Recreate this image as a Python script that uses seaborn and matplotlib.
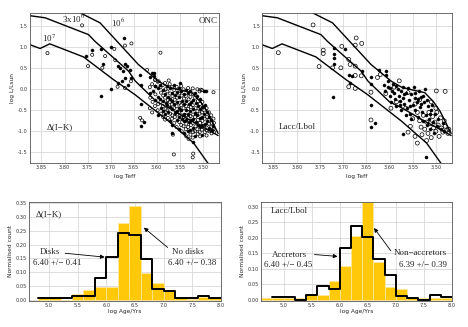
import seaborn as sns
import matplotlib.pyplot as plt
import numpy as np
import pandas as pd

# isochrones (log Teff, log L)
iso_1e6 = [(3.79, 1.95), (3.723, 1.58), (3.64, 0.59), (3.596, 0.19), (3.574, 0.05), (3.549, -0.02),
           (3.524, -0.08), (3.505, -0.30), (3.491, -0.52), (3.467, -1.05)]
iso_3e6 = [(3.90, 1.80), (3.875, 1.75), (3.842, 1.70), (3.748, 1.30), (3.734, 1.14), (3.661, 0.43),
           (3.647, 0.20), (3.60, -0.30), (3.574, -0.44), (3.524, -0.76), (3.500, -0.90), (3.467, -1.10)]
iso_1e7 = [(3.90, 1.15), (3.875, 1.06), (3.853, 0.97), (3.832, 1.08), (3.759, 0.77), (3.694, 0.23),
           (3.647, -0.13), (3.574, -0.76), (3.52, -1.28), (3.487, -1.79), (3.47, -2.1)]

# left HRD: disks (filled) / no disks (open)
disk_pts = [(3.753, 0.80), (3.740, 0.93), (3.720, -0.17), (3.721, 0.96), (3.716, 0.59), (3.700, 1.00),
            (3.700, 0.01), (3.671, 1.21), (3.685, 0.56), (3.679, 0.51), (3.673, 0.43), (3.669, 0.59),
            (3.664, 0.56), (3.658, 0.47), (3.685, 0.14), (3.675, 0.19), (3.669, 0.27), (3.663, 0.11),
            (3.656, 0.27), (3.636, 0.33), (3.634, 0.11), (3.634, -0.35), (3.627, -0.78), (3.634, -0.88),
            (3.607, 0.39), (3.607, 0.32), (3.592, 0.11), (3.603, 0.07), (3.550, 0.15), (3.493, -0.05),
            (3.567, -1.04), (3.521, -1.26),
            (3.615, 0.30), (3.614, -0.10), (3.610, 0.38), (3.609, -0.05), (3.604, 0.08), (3.603, -0.25),
            (3.598, 0.02), (3.597, -0.18), (3.598, -0.62), (3.592, -0.22), (3.591, -0.45), (3.587, -0.02),
            (3.586, -0.28), (3.587, -0.52), (3.582, -0.12), (3.581, -0.33), (3.582, -0.60), (3.577, 0.08),
            (3.576, -0.18), (3.577, -0.38), (3.576, -0.55), (3.572, 0.02), (3.571, -0.22), (3.572, -0.42),
            (3.571, -0.75), (3.567, -0.08), (3.566, -0.28), (3.567, -0.48), (3.566, -0.85), (3.562, 0.10),
            (3.561, -0.14), (3.562, -0.35), (3.561, -0.57), (3.557, -0.06), (3.556, -0.30), (3.557, -0.52),
            (3.556, -0.72), (3.552, 0.02), (3.551, -0.18), (3.552, -0.44), (3.551, -0.65), (3.552, -0.95),
            (3.547, -0.04), (3.546, -0.27), (3.547, -0.50), (3.546, -0.70), (3.542, -0.12), (3.541, -0.35),
            (3.542, -0.58), (3.541, -0.76), (3.542, -1.05), (3.537, -0.02), (3.536, -0.28), (3.537, -0.50),
            (3.536, -0.72), (3.532, -0.10), (3.531, -0.36), (3.532, -0.58), (3.531, -0.78), (3.532, -1.00),
            (3.527, -0.05), (3.526, -0.30), (3.527, -0.52), (3.526, -0.74), (3.527, -0.96), (3.522, -0.25),
            (3.521, -0.48), (3.522, -0.70), (3.521, -0.92), (3.517, -0.08), (3.516, -0.33), (3.517, -0.56),
            (3.516, -0.78), (3.517, -1.10), (3.512, -0.15), (3.511, -0.40), (3.512, -0.62), (3.511, -0.84),
            (3.507, -0.22), (3.506, -0.47), (3.507, -0.68), (3.506, -0.90), (3.502, -0.42), (3.501, -0.65),
            (3.502, -0.86), (3.501, -1.08), (3.497, -0.05), (3.496, -0.38), (3.497, -0.60), (3.496, -0.82),
            (3.492, -0.55), (3.491, -0.76), (3.487, -0.65), (3.486, -0.92), (3.482, -0.72), (3.481, -0.98),
            (3.477, -0.88)]
nodisk_pts = [(3.837, 0.86), (3.762, 1.52), (3.749, 0.55), (3.740, 0.82), (3.718, 0.51), (3.712, 0.79),
              (3.692, 0.96), (3.669, 1.04), (3.655, 1.09), (3.690, 0.69), (3.685, 0.06), (3.669, 0.03),
              (3.656, 0.19), (3.592, 0.87), (3.621, 0.46), (3.636, -0.68), (3.632, -0.74), (3.563, -1.55),
              (3.521, -1.53), (3.522, -1.62), (3.565, -1.08), (3.505, -0.01), (3.477, -0.07), (3.603, 0.23),
              (3.596, 0.19), (3.574, 0.21),
              (3.615, 0.05), (3.614, -0.20), (3.615, -0.45), (3.610, 0.12), (3.609, -0.30), (3.610, -0.55),
              (3.604, 0.22), (3.603, -0.12), (3.604, -0.40), (3.598, 0.18), (3.597, -0.35), (3.598, -0.50),
              (3.592, 0.05), (3.591, -0.08), (3.592, -0.30), (3.591, -0.58), (3.587, 0.10), (3.586, -0.15),
              (3.587, -0.40), (3.586, -0.66), (3.582, 0.15), (3.581, 0.00), (3.582, -0.20), (3.581, -0.47),
              (3.582, -0.72), (3.577, -0.05), (3.576, -0.26), (3.577, -0.50), (3.576, -0.68), (3.572, 0.12),
              (3.571, -0.10), (3.572, -0.30), (3.571, -0.58), (3.567, 0.05), (3.566, -0.16), (3.567, -0.36),
              (3.566, -0.62), (3.567, -0.70), (3.562, -0.02), (3.561, -0.25), (3.562, -0.45), (3.561, -0.66),
              (3.562, -0.80), (3.557, 0.06), (3.556, -0.20), (3.557, -0.40), (3.556, -0.60), (3.557, -0.90),
              (3.552, -0.10), (3.551, -0.32), (3.552, -0.55), (3.551, -0.78), (3.547, 0.08), (3.546, -0.15),
              (3.547, -0.38), (3.546, -0.62), (3.547, -0.85), (3.546, -1.00), (3.542, 0.00), (3.541, -0.22),
              (3.542, -0.45), (3.541, -0.66), (3.542, -0.88), (3.537, -0.16), (3.536, -0.40), (3.537, -0.62),
              (3.536, -0.82), (3.537, -0.95), (3.536, -1.12), (3.532, 0.03), (3.531, -0.24), (3.532, -0.47),
              (3.531, -0.68), (3.532, -0.90), (3.531, -1.18), (3.527, -0.18), (3.526, -0.42), (3.527, -0.64),
              (3.526, -0.85), (3.527, -1.08), (3.522, 0.02), (3.521, -0.12), (3.522, -0.38), (3.521, -0.60),
              (3.522, -0.80), (3.521, -1.02), (3.522, -1.15), (3.517, -0.20), (3.516, -0.45), (3.517, -0.66),
              (3.516, -0.88), (3.517, -1.00), (3.512, 0.00), (3.511, -0.28), (3.512, -0.52), (3.511, -0.73),
              (3.512, -0.95), (3.511, -1.06), (3.507, -0.05), (3.506, -0.35), (3.507, -0.58), (3.506, -0.80),
              (3.507, -1.02), (3.506, -1.12), (3.502, -0.02), (3.501, -0.30), (3.502, -0.55), (3.501, -0.75),
              (3.502, -0.96), (3.497, -0.50), (3.496, -0.70), (3.497, -0.92), (3.496, -1.02), (3.492, -0.45),
              (3.491, -0.66), (3.492, -0.86), (3.491, -0.98), (3.492, -1.10), (3.487, -0.55), (3.486, -0.72),
              (3.487, -0.82), (3.486, -1.00), (3.482, -0.62), (3.481, -0.80), (3.482, -0.90), (3.481, -1.05),
              (3.477, -0.70), (3.476, -0.80), (3.477, -0.95), (3.476, -1.02)]

# right HRD: accretors (filled) / non-accretors (open)
acc_pts = [(3.719, 0.97), (3.719, 0.83), (3.719, 0.75), (3.719, 0.59), (3.696, 0.96), (3.688, 0.35),
           (3.681, 0.32), (3.660, 0.43), (3.685, 0.14), (3.723, -0.18), (3.640, 0.30), (3.640, 0.13),
           (3.640, -0.37), (3.640, -0.90), (3.632, -0.80),
           (3.622, 0.47), (3.607, 0.43), (3.607, 0.35), (3.612, 0.10), (3.610, -0.05), (3.604, 0.05),
           (3.600, -0.15), (3.598, 0.02), (3.596, -0.30), (3.592, 0.12), (3.590, -0.10), (3.588, -0.22),
           (3.585, -0.40), (3.582, 0.00), (3.580, -0.15), (3.578, -0.28), (3.575, -0.50), (3.572, 0.05),
           (3.570, -0.20), (3.568, -0.35), (3.565, -0.10), (3.562, -0.45), (3.560, 0.02), (3.558, -0.25),
           (3.556, -0.58), (3.553, -0.12), (3.550, -0.38), (3.548, 0.05), (3.546, -0.20), (3.544, -0.50),
           (3.541, -0.30), (3.539, -0.65), (3.537, -0.05), (3.535, -0.42), (3.532, -0.18), (3.530, -0.55),
           (3.528, -0.75), (3.526, -0.30), (3.524, 0.00), (3.522, -0.62), (3.520, -0.85), (3.518, -0.40),
           (3.515, -0.70), (3.512, -0.95), (3.510, -0.50), (3.507, -0.78), (3.505, -1.05), (3.502, -0.60),
           (3.498, -0.88), (3.495, -0.70), (3.490, -0.95), (3.485, -0.80), (3.482, -1.00), (3.572, -1.07),
           (3.521, -1.62), (3.603, 0.19), (3.576, -0.05), (3.565, -0.62), (3.553, -0.70), (3.594, -0.05),
           (3.586, 0.08), (3.578, -0.38), (3.568, -0.12), (3.556, -0.40), (3.545, -0.08), (3.538, -0.22),
           (3.533, -0.35), (3.527, -0.15), (3.519, -0.25), (3.513, -0.58), (3.508, -0.38)]
nonacc_pts = [(3.840, 0.87), (3.765, 1.53), (3.743, 0.93), (3.743, 0.85), (3.752, 0.54), (3.723, 0.51),
              (3.705, 0.51), (3.703, 1.02), (3.672, 1.22), (3.674, 1.05), (3.660, 1.09), (3.688, 0.71),
              (3.685, 0.59), (3.674, 0.55), (3.674, 0.33), (3.661, 0.32), (3.688, 0.06), (3.674, 0.02),
              (3.640, -0.07), (3.640, -0.73),
              (3.626, 0.28), (3.620, 0.35), (3.579, 0.20), (3.499, -0.04), (3.480, -0.05), (3.608, -0.10),
              (3.590, 0.05), (3.560, -0.08), (3.545, -0.35), (3.540, -0.55), (3.535, -0.75), (3.532, -0.90),
              (3.530, -1.08), (3.527, -0.62), (3.524, -0.95), (3.520, -0.78), (3.517, -1.05), (3.515, -0.55),
              (3.512, -0.82), (3.510, -1.15), (3.507, -0.65), (3.505, -0.92), (3.502, -0.78), (3.500, -1.00),
              (3.498, -0.55), (3.495, -0.85), (3.493, -1.12), (3.490, -0.68), (3.488, -0.92), (3.485, -1.02),
              (3.482, -0.75), (3.480, -0.88), (3.477, -0.98), (3.474, -1.05), (3.472, -0.95), (3.545, -1.12),
              (3.540, -1.28), (3.520, -1.22), (3.555, -0.88), (3.550, -0.70), (3.565, -0.45), (3.585, -0.30),
              (3.597, -0.45), (3.535, -0.25), (3.510, -0.30), (3.500, -0.45), (3.560, -1.02)]

# age histograms: left edge of first bin, normalised counts per 0.2 dex bin
nodisk_start = 4.8
nodisk_h = [0.005, 0.005, 0.0, 0.022, 0.036, 0.048, 0.048, 0.28, 0.342, 0.099, 0.06, 0.034, 0.005, 0.003, 0.01, 0.005]
disk_h = [0.005, 0.005, 0.005, 0.012, 0.012, 0.078, 0.157, 0.241, 0.235, 0.147, 0.039, 0.030, 0.005, 0.005, 0.012, 0.005]
nonacc_start = 4.6
nonacc_h = [0.005, 0.005, 0.005, 0.005, 0.018, 0.015, 0.06, 0.11, 0.205, 0.315, 0.121, 0.041, 0.035, 0.005, 0.005, 0.005, 0.005]
acc_h = [0.009, 0.009, 0.0, 0.016, 0.045, 0.035, 0.166, 0.24, 0.203, 0.13, 0.081, 0.013, 0.005, 0.0, 0.016, 0.009]
binw = 0.2

sns.set_style("whitegrid", {"grid.color": "#d8d8d8", "axes.edgecolor": "#555555"})
plt.rcParams['font.family'] = ['DejaVu Sans']
plt.rcParams['mathtext.fontset'] = 'stix'
serif = ['Liberation Serif', 'DejaVu Serif']
yellow = '#ffc90a'

fig = plt.figure(figsize=(4.68, 3.27), dpi=100)
ax1 = fig.add_axes([0.064, 0.502, 0.404, 0.459])
ax2 = fig.add_axes([0.560, 0.502, 0.406, 0.459])
ax3 = fig.add_axes([0.062, 0.080, 0.410, 0.302])
ax4 = fig.add_axes([0.558, 0.080, 0.408, 0.302])


def style(ax):
    ax.grid(True, lw=0.6, color='#d8d8d8')
    ax.set_axisbelow(True)
    ax.tick_params(labelsize=3.6, length=1.5, width=0.4, direction='in', pad=1.5, colors='#333333')
    for s in ax.spines.values():
        s.set_linewidth(0.6)


def hrd(ax, filled, opened, s_f, s_o):
    for iso in (iso_1e6, iso_3e6, iso_1e7):
        sns.lineplot(x=[p[0] for p in iso], y=[p[1] for p in iso], ax=ax, color='black', lw=1.0, sort=False)
    sns.scatterplot(x=[p[0] for p in opened], y=[p[1] for p in opened], ax=ax, s=s_o,
                    facecolor='none', edgecolor='black', linewidth=0.5)
    sns.scatterplot(x=[p[0] for p in filled], y=[p[1] for p in filled], ax=ax, s=s_f,
                    color='black', edgecolor='black', linewidth=0.3)
    ax.set_xlim(3.875, 3.465)
    ax.set_ylim(-1.75, 1.82)
    ax.set_xticks(np.arange(3.85, 3.49, -0.05))
    ax.set_yticks([-1.5, -1.0, -0.5, 0.0, 0.5, 1.0, 1.5])
    ax.xaxis.set_major_formatter(plt.FormatStrFormatter('%.2f'))
    ax.yaxis.set_major_formatter(plt.FormatStrFormatter('%.1f'))
    ax.set_xlabel('log Teff', fontsize=4.2, labelpad=3)
    ax.set_ylabel('log L/Lsun', fontsize=4.2, labelpad=2)
    style(ax)


hrd(ax1, disk_pts, nodisk_pts, 5, 5)
ax1.text(3.70, 1.49, r'10$^6$', fontsize=6.5, family=serif)
ax1.text(3.805, 1.58, r'3x10$^6$', fontsize=6.5, family=serif)
ax1.text(3.848, 1.12, r'10$^7$', fontsize=6.5, family=serif)
ax1.text(3.51, 1.58, 'ONC', fontsize=6.5, family=serif)
ax1.text(3.838, -0.95, 'Δ(I−K)', fontsize=6.5, family=serif)

hrd(ax2, acc_pts, nonacc_pts, 5, 8)
ax2.text(3.838, -0.95, 'Lacc/Lbol', fontsize=6.5, family=serif)


def hist_frame(start, heights):
    centers = [start + binw * (i + 0.5) for i in range(len(heights))]
    edges = [start + binw * i for i in range(len(heights) + 1)]
    return pd.DataFrame({'age': centers, 'frac': heights}), edges


def agehist(ax, bar_start, bars, step, xmin, top):
    df_b, e_b = hist_frame(bar_start, bars)
    sns.histplot(data=df_b, x='age', weights='frac', bins=e_b, ax=ax, color=yellow,
                 alpha=1, edgecolor='#ffe7a0', linewidth=0.5, element='bars')
    df_s, e_s = hist_frame(4.8, step)
    sns.histplot(data=df_s, x='age', weights='frac', bins=e_s, ax=ax, element='step', fill=False,
                 color='black', linewidth=1.4)
    ax.set_xlim(xmin, 8.0)
    ax.set_ylim(-0.004, top)
    ax.set_xticks(np.arange(5.0, 8.01, 0.5))
    ax.xaxis.set_major_formatter(plt.FormatStrFormatter('%.1f'))
    ax.yaxis.set_major_formatter(plt.FormatStrFormatter('%.2f'))
    ax.set_xlabel('log Age/Yrs', fontsize=4.2, labelpad=1)
    ax.set_ylabel('Normalised count', fontsize=4.2, labelpad=2)
    style(ax)


arrow = dict(arrowstyle='-|>', lw=0.6, color='black', mutation_scale=6, shrinkA=0, shrinkB=0)
fs = 6.4

agehist(ax3, nodisk_start, nodisk_h, disk_h, 4.65, 0.355)
ax3.set_yticks(np.arange(0, 0.351, 0.05))
ax3.text(4.77, 0.305, 'Δ(I−K)', fontsize=6.5, family=serif)
ax3.text(4.84, 0.175, 'Disks', fontsize=fs, family=serif, va='center')
ax3.text(4.72, 0.133, '6.40 +/− 0.41', fontsize=fs, family=serif, va='center')
ax3.annotate('', xy=(5.97, 0.155), xytext=(5.28, 0.169), arrowprops=arrow)
ax3.text(7.15, 0.175, 'No disks', fontsize=fs, family=serif, va='center')
ax3.text(7.08, 0.133, '6.40 +/− 0.38', fontsize=fs, family=serif, va='center')
ax3.annotate('', xy=(6.655, 0.262), xytext=(7.07, 0.19), arrowprops=arrow)

agehist(ax4, nonacc_start, nonacc_h, acc_h, 4.6, 0.316)
ax4.set_yticks(np.arange(0, 0.301, 0.05))
ax4.text(4.77, 0.287, 'Lacc/Lbol', fontsize=6.5, family=serif, va='center')
ax4.text(4.79, 0.146, 'Accretors', fontsize=fs, family=serif, va='center')
ax4.text(4.65, 0.113, '6.40 +/− 0.45', fontsize=fs, family=serif, va='center')
ax4.annotate('', xy=(5.96, 0.14), xytext=(5.55, 0.146), arrowprops=arrow)
ax4.text(6.97, 0.151, 'Non−accretors', fontsize=fs, family=serif, va='center')
ax4.text(7.06, 0.113, '6.39 +/− 0.39', fontsize=fs, family=serif, va='center')
ax4.annotate('', xy=(6.61, 0.232), xytext=(6.91, 0.158), arrowprops=arrow)

fig.savefig('out.png', dpi=100)
